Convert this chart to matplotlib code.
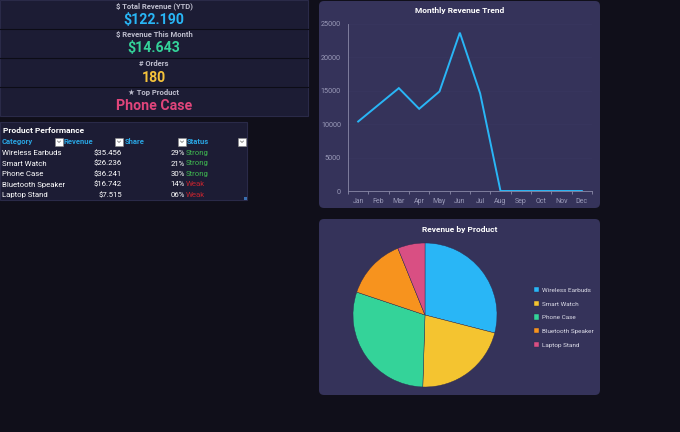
import matplotlib
matplotlib.use("Agg")
import matplotlib.pyplot as plt
from matplotlib.patches import FancyBboxPatch, Rectangle

plt.rcParams["font.family"] = ["Roboto", "DejaVu Sans"]

# KPI cards
kpi_labels = ["$ Total Revenue (YTD)", "$ Revenue This Month", "# Orders", "★ Top Product"]
kpi_values = ["$122.190", "$14.643", "180", "Phone Case"]
kpi_colors = ["#29b6f6", "#34d399", "#f5c33b", "#e0457b"]

# product table
products = ["Wireless Earbuds", "Smart Watch", "Phone Case", "Bluetooth Speaker", "Laptop Stand"]
revenue = [35456, 26236, 36241, 16742, 7515]
share = ["29%", "21%", "30%", "14%", "06%"]
status = ["Strong", "Strong", "Strong", "Weak", "Weak"]
table_headers = ["Category", "Revenue", "Share", "Status"]

# monthly trend
months = ["Jan", "Feb", "Mar", "Apr", "May", "Jun", "Jul", "Aug", "Sep", "Oct", "Nov", "Dec"]
monthly_rev = [10400, 12900, 15400, 12300, 14900, 23700, 14600, 0, 0, 0, 0, 0]

pie_colors = ["#29b6f6", "#f4c430", "#34d399", "#f7931e", "#d94f83"]

BG = "#100f1a"
CARD = "#1c1c34"
PANEL = "#35335a"
W, H = 680, 432

fig = plt.figure(figsize=(6.8, 4.32), dpi=100, facecolor=BG)
bg = fig.add_axes([0, 0, 1, 1])
bg.set_xlim(0, W)
bg.set_ylim(H, 0)
bg.axis("off")


def fig_box(x, y, w, h):
    return [x / W, 1 - (y + h) / H, w / W, h / H]


# KPI block
bg.add_patch(Rectangle((0, 0), 308, 116, facecolor=CARD, edgecolor="#2a2a48", lw=0.8))
for i, (lab, val, col) in enumerate(zip(kpi_labels, kpi_values, kpi_colors)):
    y0 = i * 29
    if i > 0:
        bg.plot([0, 308], [y0, y0], color="#0c0c16", lw=0.8)
    bg.text(154, y0 + 6, lab, color="#bdbdcd", fontsize=5.5, fontweight="bold",
            ha="center", va="center")
    bg.text(154, y0 + 19.5, val, color=col, fontsize=10.2, fontweight="bold",
            ha="center", va="center")

# table
bg.add_patch(Rectangle((0, 122), 247, 78, facecolor=CARD, edgecolor="#2a2a48", lw=0.8))
bg.text(3, 130.5, "Product Performance", color="white", fontsize=6, fontweight="bold",
        va="center")
head_x = [2, 63, 125, 187]
box_x = [55, 115, 178, 238]
for hx, bx, name in zip(head_x, box_x, table_headers):
    bg.text(hx, 141.5, name, color="#29a3e0", fontsize=5.5, fontweight="bold", va="center")
    bg.add_patch(Rectangle((bx, 137.5), 8, 8, facecolor="white", edgecolor="#888", lw=0.4))
    bg.plot([bx + 2.5, bx + 4, bx + 5.5], [141, 142.5, 141], color="#666", lw=0.5)
for i, (p, r, s, st) in enumerate(zip(products, revenue, share, status)):
    y = 153 + i * 10.5
    bg.text(2, y, p, color="white", fontsize=5.6, va="center")
    bg.text(122, y, "$" + f"{r:,}".replace(",", "."), color="white", fontsize=5.6,
            va="center", ha="right")
    bg.text(185, y, s, color="white", fontsize=5.6, va="center", ha="right")
    bg.text(186, y, st, color="#3fb950" if st == "Strong" else "#c0242f",
            fontsize=5.6, va="center")
bg.add_patch(Rectangle((244, 197), 2.5, 2.5, facecolor="#3a6fb0", lw=0))

# chart panels
for (px, py, pw, ph) in [(319, 1, 281, 207), (319, 219, 281, 176)]:
    bg.add_patch(FancyBboxPatch((px + 5, py + 5), pw - 10, ph - 10,
                                boxstyle="round,pad=5", facecolor=PANEL,
                                edgecolor="none"))

# line chart
ax = fig.add_axes(fig_box(348, 24, 244, 167))
ax.set_facecolor("none")
x = list(range(len(months)))
ax.plot(x, monthly_rev, color="#29b6f6", lw=1.4, solid_joinstyle="miter")
ax.set_xlim(-0.5, len(months) - 0.5)
ax.set_ylim(0, 25000)
ax.set_yticks([0, 5000, 10000, 15000, 20000, 25000])
ax.set_xticks(x)
ax.set_xticklabels(months)
ax.set_xticks([i - 0.5 for i in range(len(months) + 1)], minor=True)
ax.tick_params(axis="x", which="major", length=0, pad=5, labelsize=5, colors="#9a9ab8")
ax.tick_params(axis="x", which="minor", length=2.5, color="#8a8aa8", width=0.6)
ax.tick_params(axis="y", length=0, pad=5, labelsize=5.2, colors="#9a9ab8")
ax.grid(axis="y", color="#39375f", lw=0.5)
ax.set_axisbelow(True)
for side in ["top", "right"]:
    ax.spines[side].set_visible(False)
for side in ["left", "bottom"]:
    ax.spines[side].set_color("#8a8aa8")
    ax.spines[side].set_linewidth(0.6)
bg.text(459.5, 11, "Monthly Revenue Trend", color="white", fontsize=6,
        fontweight="bold", ha="center", va="center")

# pie chart
pax = fig.add_axes(fig_box(353, 243, 144, 144))
wedges, _ = pax.pie(revenue, colors=pie_colors, startangle=90, counterclock=False,
                    wedgeprops=dict(linewidth=0.3, edgecolor="#2c2a4e"))
pax.set_xlim(-1, 1)
pax.set_ylim(-1, 1)
bg.text(459.5, 229.5, "Revenue by Product", color="white", fontsize=6,
        fontweight="bold", ha="center", va="center")
leg = pax.legend(wedges, products, loc="upper left",
                 bbox_to_anchor=(534 / W, 1 - 287 / H), bbox_transform=fig.transFigure,
                 frameon=False, fontsize=4.6, labelcolor="#dcdce8",
                 handlelength=0.85, handleheight=0.85, handletextpad=0.4,
                 labelspacing=1.25, borderpad=0, borderaxespad=0)

fig.savefig("out.png", dpi=100, facecolor=BG)
